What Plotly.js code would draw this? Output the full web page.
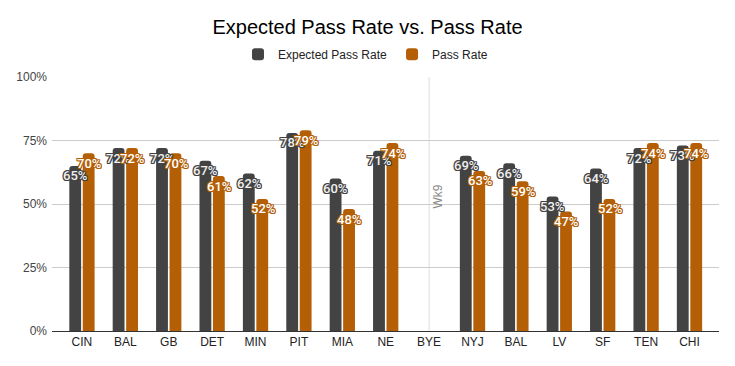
<!DOCTYPE html>
<html>
<head>
<meta charset="utf-8">
<script src="https://cdn.plot.ly/plotly-3.0.1.min.js"></script>
<style>html,body{margin:0;padding:0;background:#fff;}#chart{width:735px;height:366px;}</style>
</head>
<body>
<div id="chart"></div>
<script>
const categories = ["CIN","BAL","GB","DET","MIN","PIT","MIA","NE","BYE","NYJ","BAL","LV","SF","TEN","CHI"];
const expectedPassRate = [0.65,0.72,0.72,0.67,0.62,0.78,0.60,0.71,null,0.69,0.66,0.53,0.64,0.72,0.73];
const passRate = [0.70,0.72,0.70,0.61,0.52,0.79,0.48,0.74,null,0.63,0.59,0.47,0.52,0.74,0.74];
const byeLabel = "Wk9";
const byeIndex = categories.indexOf("BYE");

const xIdx = categories.map((c,i)=>i);
const darkColor = "#434343";
const orangeColor = "#b45f06";

const traces = [
  {type:"bar", name:"Expected Pass Rate", x:xIdx, y:expectedPassRate, marker:{color:darkColor}, hoverinfo:"none"},
  {type:"bar", name:"Pass Rate", x:xIdx, y:passRate, marker:{color:orangeColor}, hoverinfo:"none"}
];

function outline(c){
  return `-1px -1px 0 ${c}, 1px -1px 0 ${c}, -1px 1px 0 ${c}, 1px 1px 0 ${c}, 0 1px 0 ${c}, 0 -1px 0 ${c}, 1px 0 0 ${c}, -1px 0 0 ${c}`;
}

const annotations = [];
[[expectedPassRate, darkColor, -7, "#f0f0f0"], [passRate, orangeColor, 7, "#ffffff"]].forEach(([arr, col, xs, fill])=>{
  arr.forEach((v,i)=>{
    if (v===null) return;
    annotations.push({
      x:i, y:v, xref:"x", yref:"y", text: Math.round(v*100)+"%", showarrow:false,
      xshift:xs, yshift:-10, xanchor:"center", yanchor:"middle",
      font:{family:"Roboto, Arial, sans-serif", size:13, color:fill, weight:500, shadow:outline(col)}
    });
  });
});
annotations.push({
  x:byeIndex, y:0.53, xref:"x", yref:"y", text:byeLabel, showarrow:false, textangle:-90,
  xshift:9, font:{family:"Arial, Liberation Sans, sans-serif", size:12, color:"#888888"}
});

const layout = {
  width:735, height:366,
  margin:{l:52, r:16, t:77, b:35},
  paper_bgcolor:"#ffffff", plot_bgcolor:"#ffffff",
  title:{text:"Expected Pass Rate vs. Pass Rate", x:0.5, xanchor:"center", y:0.925, yanchor:"middle",
    font:{family:"Arial, Liberation Sans, sans-serif", size:20, color:"#000000"}},
  showlegend:true,
  legend:{orientation:"h", x:0.47, xanchor:"center", y:1.09, yanchor:"middle",
    font:{family:"Arial, Liberation Sans, sans-serif", size:12, color:"#222222"}, itemwidth:30, traceorder:"normal"},
  barmode:"group", bargap:0.38, bargroupgap:0.12, barcornerradius:3,
  xaxis:{type:"linear", range:[-0.69,14.68], tickvals:xIdx, ticktext:categories, showgrid:false, zeroline:false,
    showline:true, linecolor:"#333333", linewidth:1, ticks:"",
    tickfont:{family:"Arial, Liberation Sans, sans-serif", size:12, color:"#222222"}},
  yaxis:{range:[0,1], tickvals:[0,0.25,0.5,0.75,1], tickformat:".0%", showgrid:true, gridcolor:"#cccccc",
    zeroline:false, showline:false, ticks:"", ticklabelstandoff:4,
    tickfont:{family:"Arial, Liberation Sans, sans-serif", size:12, color:"#444444"}},
  shapes:[{type:"line", xref:"x", yref:"paper", x0:byeIndex, x1:byeIndex, y0:0, y1:1, line:{color:"#dddddd", width:1}, layer:"below"}],
  annotations:annotations
};

Plotly.newPlot("chart", traces, layout, {displayModeBar:false, staticPlot:true});
</script>
</body>
</html>
